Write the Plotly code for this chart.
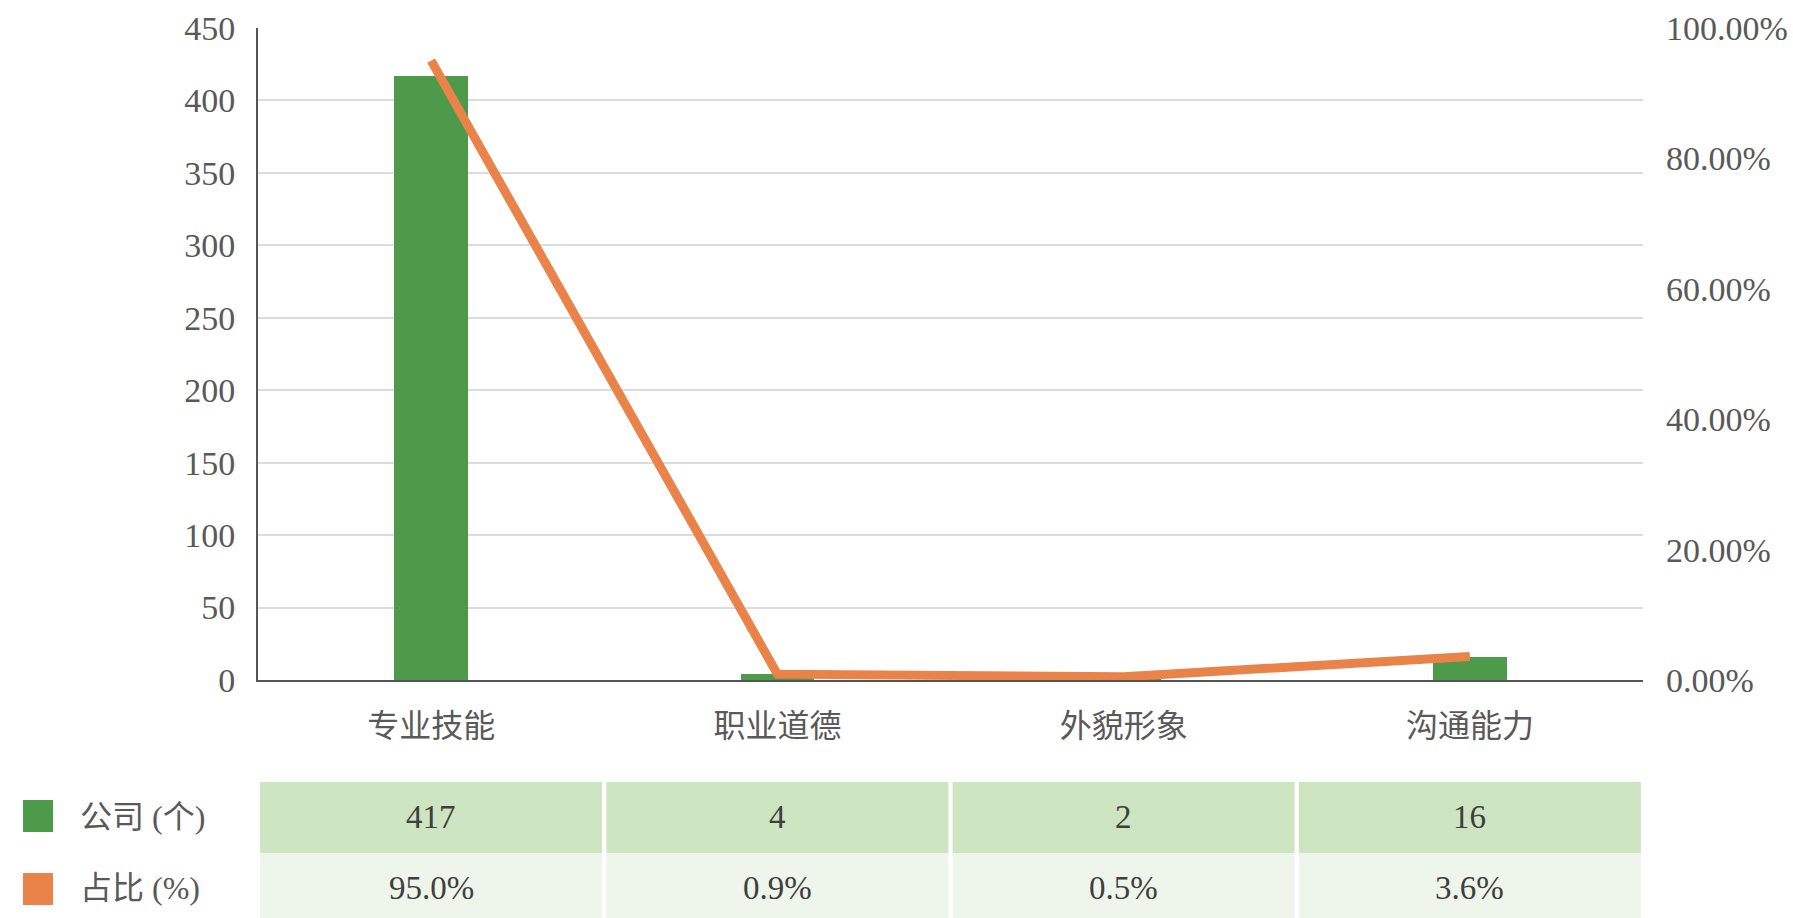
import plotly.graph_objects as go

# Data
categories = ["专业技能", "职业道德", "外貌形象", "沟通能力"]
company_counts = [417, 4, 2, 16]
share_pct = [95.0, 0.9, 0.5, 3.6]
series_names = ["公司 (个)", "占比 (%)"]
left_ticks = [0, 50, 100, 150, 200, 250, 300, 350, 400, 450]
right_ticks = [0, 20, 40, 60, 80, 100]
right_tick_text = [f"{v:.2f}%" for v in right_ticks]

# Page / plot geometry (pixels)
W, H = 1793, 918
L, R, T, B = 258, 1643, 28, 680

GREEN = "#4C9A4A"
ORANGE = "#EA834A"
ROW1 = "#CDE5C0"
ROW2 = "#EEF5EA"
TXT = "#595959"
NUM_FONT = "Liberation Serif, Noto Sans CJK SC"


def pyp(p):
    """pixel row -> paper y"""
    return (B - p) / (B - T)


def pxp(p):
    """pixel column -> paper x"""
    return (p - L) / (R - L)


fig = go.Figure()

fig.add_trace(go.Bar(
    x=categories, y=company_counts, name=series_names[0],
    marker=dict(color=GREEN, line=dict(width=0)),
    width=0.213, yaxis="y", showlegend=False,
))
fig.add_trace(go.Scatter(
    x=categories, y=share_pct, name=series_names[1],
    mode="lines", line=dict(color=ORANGE, width=9),
    yaxis="y2", showlegend=False,
))

shapes = []
annotations = []

# y-axis line continues a little below the category axis
shapes.append(dict(
    type="line", xref="x domain", x0=0, x1=0,
    yref="y", ysizemode="pixel", yanchor=0, y0=0, y1=-17,
    line=dict(color="#555555", width=2), layer="above",
))

# Data table under the chart
rows = [
    (782, 853, ROW1, [str(v) for v in company_counts], 817),
    (853, 925, ROW2, [f"{v:.1f}%" for v in share_pct], 888),
]
for top, bot, fill, texts, cy in rows:
    for i, t in enumerate(texts):
        shapes.append(dict(
            type="rect", xref="x", xsizemode="pixel", xanchor=i,
            x0=-171, x1=171, yref="paper", y0=pyp(bot), y1=pyp(top),
            fillcolor=fill, line=dict(width=0), layer="below",
        ))
        annotations.append(dict(
            x=i, xref="x", y=pyp(cy), yref="paper", text=t,
            showarrow=False, xanchor="center", yanchor="middle",
            font=dict(family=NUM_FONT, size=33, color="#3F3F3F"),
        ))

# Legend keys beside the table rows
for (top, bot, cy), color, name in zip(
        [(800, 832, 817), (873, 905, 888)], [GREEN, ORANGE], series_names):
    shapes.append(dict(
        type="rect", xref="paper", yref="paper",
        x0=pxp(23), x1=pxp(53), y0=pyp(bot), y1=pyp(top),
        fillcolor=color, line=dict(width=0),
    ))
    annotations.append(dict(
        x=pxp(78), xref="paper", y=pyp(cy), yref="paper", text=name,
        showarrow=False, xanchor="left", yanchor="middle",
        font=dict(family=NUM_FONT, size=32, color=TXT),
    ))

fig.update_layout(
    width=W, height=H, autosize=False,
    margin=dict(l=L, r=W - R, t=T, b=H - B, pad=0, autoexpand=False),
    paper_bgcolor="white", plot_bgcolor="white",
    bargap=0,
    xaxis=dict(
        type="category", categoryorder="array", categoryarray=categories,
        range=[-0.5, 3.5], showgrid=False, zeroline=False, automargin=False,
        showline=True, linecolor="#555555", linewidth=2,
        ticks="", ticklabelstandoff=17,
        tickfont=dict(family="Noto Sans CJK SC", size=32, color=TXT),
    ),
    yaxis=dict(
        range=[0, 450], tickvals=left_ticks, showgrid=True, automargin=False,
        gridcolor="#DCDCDC", gridwidth=2, zeroline=False,
        showline=True, linecolor="#555555", linewidth=2,
        ticks="", ticklabelstandoff=14,
        tickfont=dict(family=NUM_FONT, size=34, color=TXT),
    ),
    yaxis2=dict(
        overlaying="y", side="right", range=[0, 100], automargin=False,
        tickmode="array", tickvals=right_ticks, ticktext=right_tick_text,
        showgrid=False, zeroline=False,
        showline=False, ticks="", ticklabelstandoff=22,
        tickfont=dict(family=NUM_FONT, size=34, color=TXT),
    ),
    shapes=shapes,
    annotations=annotations,
)

fig.write_html("out.html")
